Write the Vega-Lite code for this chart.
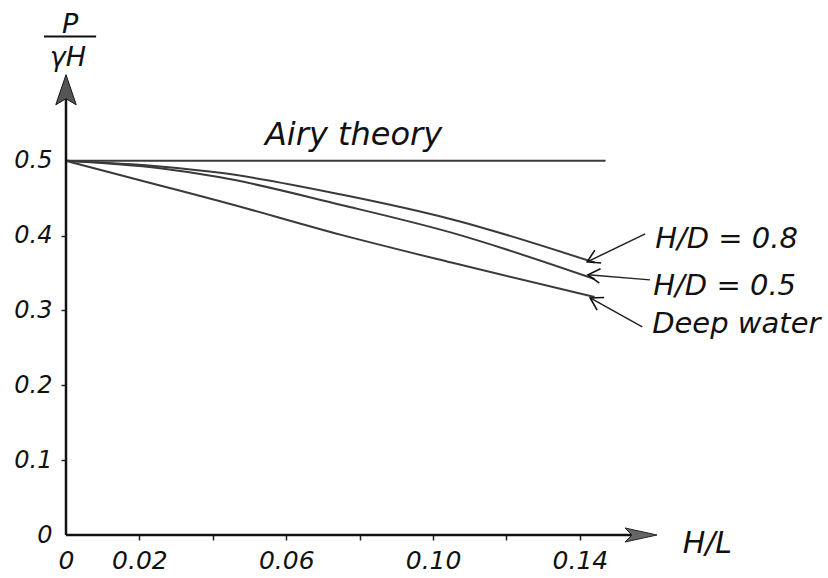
{
  "$schema": "https://vega.github.io/schema/vega-lite/v6.json",
  "width": 624,
  "height": 464,
  "autosize": {"type": "none"},
  "padding": {"left": 66, "top": 71, "right": 138, "bottom": 43},
  "background": "white",
  "config": {"view": {"stroke": null}, "font": "DejaVu Sans"},
  "datasets": {
    "curves": [
      {"series": "Airy theory", "x": 0, "y": 0.5},
      {"series": "Airy theory", "x": 0.147, "y": 0.5},
      {"series": "H/D = 0.8", "x": 0, "y": 0.5},
      {"series": "H/D = 0.8", "x": 0.0256, "y": 0.4924},
      {"series": "H/D = 0.8", "x": 0.042, "y": 0.484},
      {"series": "H/D = 0.8", "x": 0.075, "y": 0.455},
      {"series": "H/D = 0.8", "x": 0.105, "y": 0.422},
      {"series": "H/D = 0.8", "x": 0.144, "y": 0.364},
      {"series": "H/D = 0.5", "x": 0, "y": 0.5},
      {"series": "H/D = 0.5", "x": 0.0256, "y": 0.49},
      {"series": "H/D = 0.5", "x": 0.042, "y": 0.478},
      {"series": "H/D = 0.5", "x": 0.075, "y": 0.441},
      {"series": "H/D = 0.5", "x": 0.105, "y": 0.404},
      {"series": "H/D = 0.5", "x": 0.144, "y": 0.342},
      {"series": "Deep water", "x": 0, "y": 0.5},
      {"series": "Deep water", "x": 0.0256, "y": 0.467},
      {"series": "Deep water", "x": 0.042, "y": 0.446},
      {"series": "Deep water", "x": 0.075, "y": 0.401},
      {"series": "Deep water", "x": 0.105, "y": 0.364},
      {"series": "Deep water", "x": 0.144, "y": 0.318}
    ],
    "leaders": [
      {"label": "H/D = 0.8", "x": 0.1578, "y": 0.4024, "x2": 0.142, "y2": 0.365},
      {"label": "H/D = 0.5", "x": 0.1591, "y": 0.3409, "x2": 0.1422, "y2": 0.3476},
      {"label": "Deep water", "x": 0.157, "y": 0.278, "x2": 0.1428, "y2": 0.3168}
    ],
    "labels": [
      {"text": "H/D = 0.8", "x": 0.1605, "y": 0.384},
      {"text": "H/D = 0.5", "x": 0.16, "y": 0.321},
      {"text": "Deep water", "x": 0.1597, "y": 0.27}
    ],
    "axislines": [
      {"axis": "x", "x": 0, "y": 0, "x2": 0.158, "y2": 0},
      {"axis": "y", "x": 0, "y": 0, "x2": 0, "y2": 0.6}
    ]
  },
  "layer": [
    {
      "data": {"name": "curves"},
      "mark": {"type": "line", "interpolate": "monotone", "stroke": "#3a3a3a", "strokeWidth": 2},
      "encoding": {
        "x": {
          "field": "x", "type": "quantitative",
          "scale": {"domain": [0, 0.17], "nice": false, "zero": false},
          "axis": {
            "title": null, "domain": false, "grid": false,
            "values": [0, 0.02, 0.04, 0.06, 0.08, 0.1, 0.12, 0.14],
            "format": ".2f",
            "labelExpr": "datum.value == 0 ? '0' : (indexof(['0.04','0.08','0.12'], datum.label) >= 0 ? '' : datum.label)",
            "tickSize": 5, "tickColor": "#222", "tickWidth": 1.5,
            "tickOpacity": {"condition": {"test": "datum.value == 0", "value": 0}, "value": 1},
            "labelFont": "DejaVu Sans", "labelFontStyle": "italic", "labelFontSize": 25,
            "labelColor": "#111", "labelPadding": 8, "labelFlush": false, "labelOverlap": false
          }
        },
        "y": {
          "field": "y", "type": "quantitative",
          "scale": {"domain": [0, 0.62], "nice": false},
          "axis": {
            "title": null, "domain": false, "grid": false,
            "values": [0, 0.1, 0.2, 0.3, 0.4, 0.5],
            "format": ".1f",
            "labelExpr": "datum.value == 0 ? '0' : datum.label",
            "tickSize": 5, "tickColor": "#222", "tickWidth": 1.5,
            "tickOpacity": {"condition": {"test": "datum.value == 0 || datum.value == 0.5", "value": 0}, "value": 1},
            "labelFont": "DejaVu Sans", "labelFontStyle": "italic", "labelFontSize": 24,
            "labelColor": "#111", "labelPadding": 9, "labelFlush": false, "labelOverlap": false
          }
        },
        "detail": {"field": "series"}
      }
    },
    {
      "data": {"name": "axislines"},
      "mark": {"type": "rule", "stroke": "#111", "strokeWidth": 2.5},
      "encoding": {
        "x": {"field": "x", "type": "quantitative"},
        "y": {"field": "y", "type": "quantitative"},
        "x2": {"field": "x2"},
        "y2": {"field": "y2"}
      }
    },
    {
      "data": {"values": [{"x": 0.161, "y": 0}]},
      "mark": {"type": "point", "shape": "M0,0 L-1,-0.22 L-0.78,0 L-1,0.22 Z", "size": 4096, "filled": true, "fill": "#666", "stroke": "#222", "strokeWidth": 1, "opacity": 1},
      "encoding": {
        "x": {"field": "x", "type": "quantitative"},
        "y": {"field": "y", "type": "quantitative"}
      }
    },
    {
      "data": {"values": [{"x": 0, "y": 0.615}]},
      "mark": {"type": "point", "shape": "M0,0 L0.34,1 L0,0.8 L-0.34,1 Z", "size": 3600, "filled": true, "fill": "#555", "stroke": "#111", "strokeWidth": 1, "opacity": 1},
      "encoding": {
        "x": {"field": "x", "type": "quantitative"},
        "y": {"field": "y", "type": "quantitative"}
      }
    },
    {
      "data": {"name": "leaders"},
      "mark": {"type": "rule", "stroke": "#222", "strokeWidth": 1.5},
      "encoding": {
        "x": {"field": "x", "type": "quantitative"},
        "y": {"field": "y", "type": "quantitative"},
        "x2": {"field": "x2"},
        "y2": {"field": "y2"}
      }
    },
    {
      "data": {"name": "leaders"},
      "transform": [{"filter": "datum.label == 'H/D = 0.8'"}],
      "mark": {"type": "point", "shape": "M-1,-0.6 L0,0 L-1,0.6", "size": 576, "filled": false, "stroke": "#111", "strokeWidth": 1.6, "angle": 154, "opacity": 1},
      "encoding": {
        "x": {"field": "x2", "type": "quantitative"},
        "y": {"field": "y2", "type": "quantitative"}
      }
    },
    {
      "data": {"name": "leaders"},
      "transform": [{"filter": "datum.label == 'H/D = 0.5'"}],
      "mark": {"type": "point", "shape": "M-1,-0.6 L0,0 L-1,0.6", "size": 576, "filled": false, "stroke": "#111", "strokeWidth": 1.6, "angle": 185, "opacity": 1},
      "encoding": {
        "x": {"field": "x2", "type": "quantitative"},
        "y": {"field": "y2", "type": "quantitative"}
      }
    },
    {
      "data": {"name": "leaders"},
      "transform": [{"filter": "datum.label == 'Deep water'"}],
      "mark": {"type": "point", "shape": "M-1,-0.6 L0,0 L-1,0.6", "size": 576, "filled": false, "stroke": "#111", "strokeWidth": 1.6, "angle": 209, "opacity": 1},
      "encoding": {
        "x": {"field": "x2", "type": "quantitative"},
        "y": {"field": "y2", "type": "quantitative"}
      }
    },
    {
      "data": {"name": "labels"},
      "mark": {"type": "text", "align": "left", "baseline": "alphabetic", "font": "DejaVu Sans", "fontStyle": "italic", "fontSize": 29, "fill": "#111"},
      "encoding": {
        "x": {"field": "x", "type": "quantitative"},
        "y": {"field": "y", "type": "quantitative"},
        "text": {"field": "text"}
      }
    },
    {
      "data": {"values": [{"text": "Airy theory", "x": 0.0542, "y": 0.521}]},
      "mark": {"type": "text", "align": "left", "baseline": "alphabetic", "font": "DejaVu Sans", "fontStyle": "italic", "fontSize": 32, "fill": "#111"},
      "encoding": {
        "x": {"field": "x", "type": "quantitative"},
        "y": {"field": "y", "type": "quantitative"},
        "text": {"field": "text"}
      }
    },
    {
      "data": {"values": [{"text": "H/L", "x": 0.168, "y": -0.024}]},
      "mark": {"type": "text", "align": "left", "baseline": "alphabetic", "font": "DejaVu Sans", "fontStyle": "italic", "fontSize": 30, "fill": "#111"},
      "encoding": {
        "x": {"field": "x", "type": "quantitative"},
        "y": {"field": "y", "type": "quantitative"},
        "text": {"field": "text"}
      }
    },
    {
      "data": {"values": [{"text": "P", "x": 0.0011, "y": 0.671}, {"text": "γH", "x": 0.0005, "y": 0.627}]},
      "mark": {"type": "text", "align": "center", "baseline": "alphabetic", "font": "DejaVu Sans", "fontStyle": "italic", "fontSize": 27, "fill": "#111"},
      "encoding": {
        "x": {"field": "x", "type": "quantitative"},
        "y": {"field": "y", "type": "quantitative"},
        "text": {"field": "text"}
      }
    },
    {
      "data": {"values": [{"x": -0.006, "x2": 0.0082, "y": 0.666}]},
      "mark": {"type": "rule", "stroke": "#111", "strokeWidth": 2},
      "encoding": {
        "x": {"field": "x", "type": "quantitative"},
        "x2": {"field": "x2"},
        "y": {"field": "y", "type": "quantitative"}
      }
    }
  ]
}
